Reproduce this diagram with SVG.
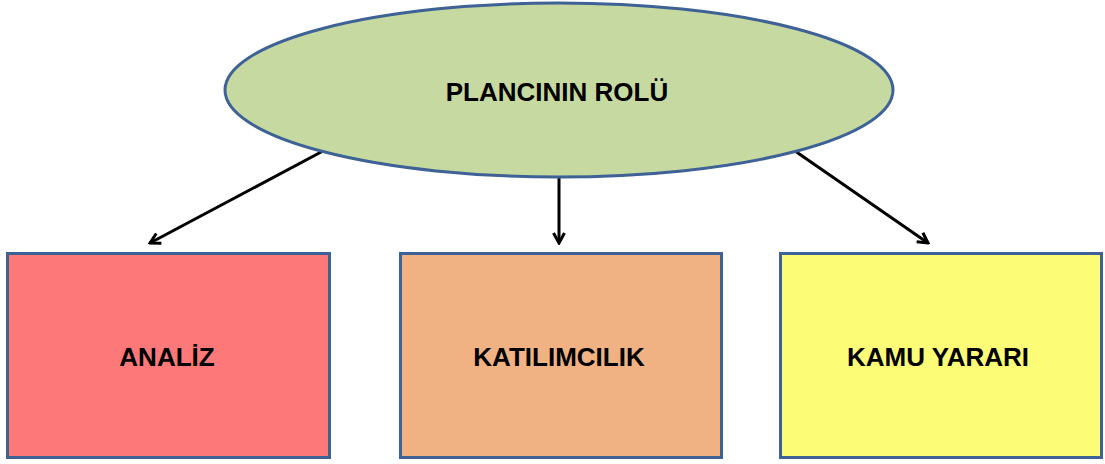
<svg xmlns="http://www.w3.org/2000/svg" width="1105" height="464" viewBox="0 0 1105 464">
  <style>
    .shape { stroke: #3E6196; stroke-width: 3; }
    .label { font-family: "Liberation Sans", Arial, sans-serif; font-weight: bold; font-size: 26px; fill: #000; text-anchor: middle; }
    .conn { stroke: #000; stroke-width: 3; fill: none; }
  </style>
  <defs>
    <marker id="arrow" viewBox="0 0 14 14" refX="12" refY="7" markerWidth="14" markerHeight="14" markerUnits="userSpaceOnUse" orient="auto">
      <path d="M2,1.5 L12,7 L2,12.5" fill="none" stroke="#000" stroke-width="3" stroke-linejoin="miter"/>
    </marker>
  </defs>
  <rect width="1105" height="464" fill="#ffffff"/>
  <g id="connectors">
    <line class="conn" x1="323" y1="151" x2="150" y2="243" marker-end="url(#arrow)"/>
    <line class="conn" x1="559" y1="176" x2="559" y2="243" marker-end="url(#arrow)"/>
    <line class="conn" x1="795" y1="151" x2="928" y2="243" marker-end="url(#arrow)"/>
  </g>
  <g id="node-root">
    <ellipse class="shape" cx="559" cy="90" rx="334" ry="87" fill="#C6D9A1"/>
    <text class="label" x="557" y="101">PLANCININ ROLÜ</text>
  </g>
  <g id="node-analiz">
    <rect class="shape" x="7.5" y="253.5" width="322" height="204" fill="#FD7878"/>
    <text class="label" x="167" y="366">ANALİZ</text>
  </g>
  <g id="node-katilimcilik">
    <rect class="shape" x="400.5" y="253.5" width="321" height="204" fill="#F0B282"/>
    <text class="label" x="559" y="366">KATILIMCILIK</text>
  </g>
  <g id="node-kamu">
    <rect class="shape" x="780.5" y="253.5" width="321" height="204" fill="#FDFC77"/>
    <text class="label" x="938" y="366">KAMU YARARI</text>
  </g>
</svg>
